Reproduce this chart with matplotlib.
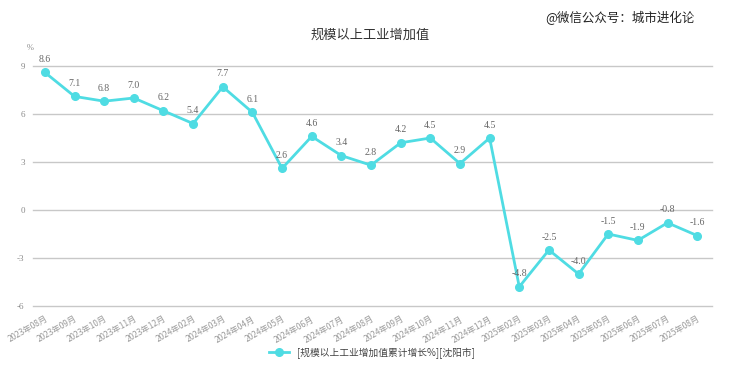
import matplotlib
matplotlib.use("Agg")
import matplotlib.pyplot as plt

plt.rcParams['font.family'] = ['Noto Sans CJK SC', 'DejaVu Sans']

# data
months = ['2023年08月', '2023年09月', '2023年10月', '2023年11月', '2023年12月',
          '2024年02月', '2024年03月', '2024年04月', '2024年05月', '2024年06月',
          '2024年07月', '2024年08月', '2024年09月', '2024年10月', '2024年11月',
          '2024年12月', '2025年02月', '2025年03月', '2025年04月', '2025年05月',
          '2025年06月', '2025年07月', '2025年08月']
growth = [8.6, 7.1, 6.8, 7.0, 6.2, 5.4, 7.7, 6.1, 2.6, 4.6, 3.4, 2.8, 4.2, 4.5,
          2.9, 4.5, -4.8, -2.5, -4.0, -1.5, -1.9, -0.8, -1.6]
y_ticks = [-6, -3, 0, 3, 6, 9]

line_color = '#4fdce3'
grey = '#8a8a8a'

fig = plt.figure(figsize=(7.31, 3.70), dpi=100)
ax = fig.add_axes([33 / 731, 1 - 306 / 370, (712 - 33) / 731, (306 - 66) / 370])

x = list(range(len(months)))
ax.plot(x, growth, color=line_color, linewidth=2, marker='o', markersize=5.5,
        label='[规模以上工业增加值累计增长%][沈阳市]', zorder=3)

for xi, v in zip(x, growth):
    ax.annotate(f'{v:.1f}', (xi, v), xytext=(0, 6), textcoords='offset points',
                ha='center', va='bottom', fontsize=7, color='#666666',
                family=['Liberation Serif', 'DejaVu Serif'])

ax.set_xlim(-0.4, len(months) - 0.5)
ax.set_ylim(-6, 9)
ax.set_yticks(y_ticks)
ax.set_yticklabels([str(t) for t in y_ticks], fontsize=6.5, color=grey,
                   family=['Liberation Serif', 'DejaVu Serif'])
ax.set_xticks(x)
ax.set_xticklabels(months, rotation=30, ha='right', rotation_mode='anchor',
                   fontsize=6, color='#9a9a9a')
ax.tick_params(axis='both', length=0, pad=6)
ax.grid(axis='y', color='#c8c8c8', linewidth=1)
for gl in ax.yaxis.get_gridlines():
    gl.set_clip_on(False)
for s in ax.spines.values():
    s.set_visible(False)

fig.text(30 / 731, 1 - 48 / 370, '%', fontsize=6, color=grey, ha='center', va='center',
         family=['Liberation Serif', 'DejaVu Serif'])
fig.text(370 / 731, 1 - 35 / 370, '规模以上工业增加值', fontsize=9.5, fontweight='medium',
         color='#333333', ha='center', va='center')
fig.text(620 / 731, 1 - 18 / 370, '@微信公众号：城市进化论', fontsize=9, color='#222222',
         ha='center', va='center')

fig.legend(loc='center', bbox_to_anchor=(372 / 731, 1 - 353 / 370), frameon=False,
           fontsize=7, handlelength=2, labelcolor='#444444')

fig.savefig('out.png', dpi=100)
